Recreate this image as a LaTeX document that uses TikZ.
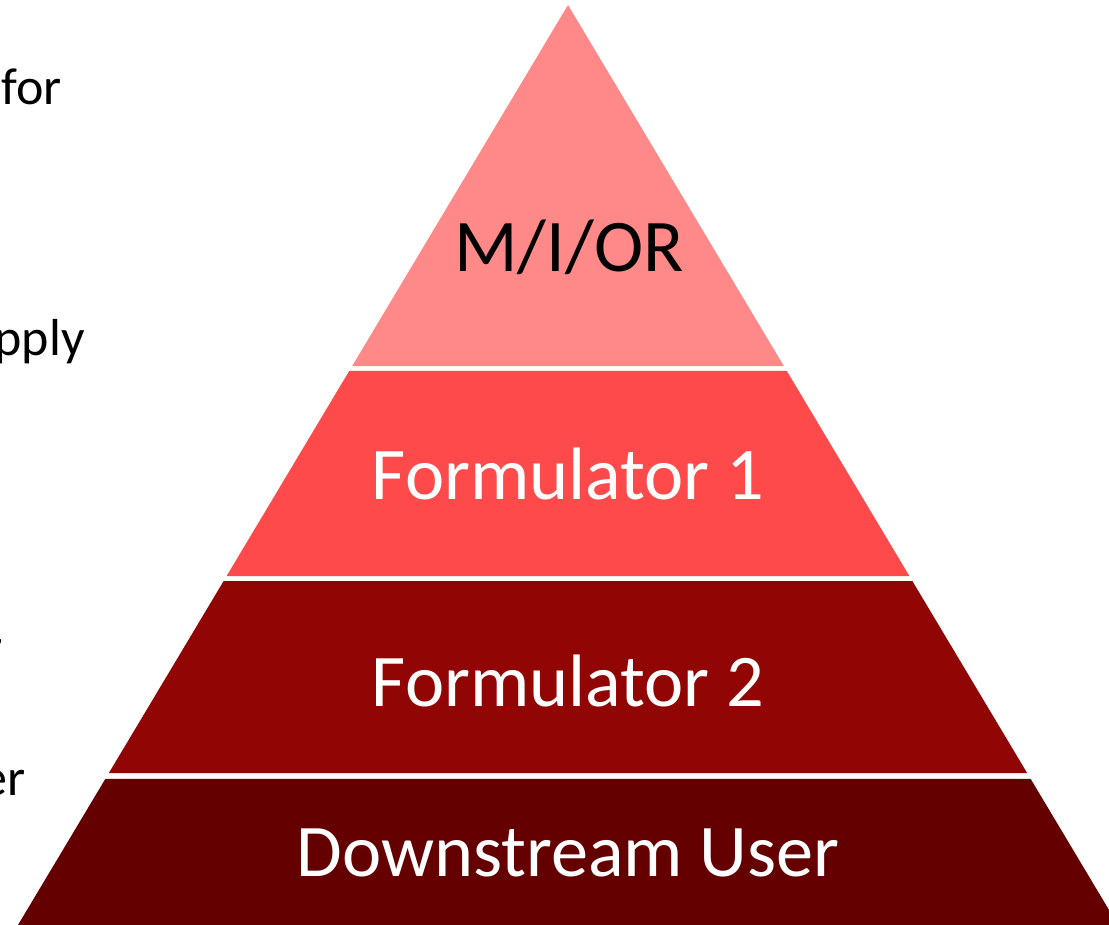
\documentclass[tikz,border=0pt]{standalone}
\usepackage{fontspec}
\setmainfont{Carlito}
\usetikzlibrary{calc}
\definecolor{layerA}{RGB}{255,137,137}
\definecolor{layerB}{RGB}{254,74,74}
\definecolor{layerC}{RGB}{146,5,5}
\definecolor{layerD}{RGB}{100,0,0}
\tikzset{
  lbl/.style={anchor=base, inner sep=0pt, font=\fontsize{74.3}{88}\selectfont},
  side/.style={anchor=base east, inner sep=0pt, font=\fontsize{52}{62}\selectfont, text=black},
}
\begin{document}
\begin{tikzpicture}[x=1pt,y=-1pt]
\useasboundingbox (0,0) rectangle (1109,925);
\coordinate (apex) at (568,5);
\coordinate (bl) at (18,925);
\coordinate (br) at (1118,925);
% layer 1
\fill[layerA] (apex) -- ($(apex)!0.3924!(bl)$) -- ($(apex)!0.3924!(br)$) -- cycle;
% layer 2
\fill[layerB] ($(apex)!0.3978!(bl)$) -- ($(apex)!0.6207!(bl)$) -- ($(apex)!0.6207!(br)$) -- ($(apex)!0.3978!(br)$) -- cycle;
% layer 3
\fill[layerC] ($(apex)!0.6261!(bl)$) -- ($(apex)!0.8348!(bl)$) -- ($(apex)!0.8348!(br)$) -- ($(apex)!0.6261!(br)$) -- cycle;
% layer 4
\fill[layerD] ($(apex)!0.8413!(bl)$) -- (bl) -- (br) -- ($(apex)!0.8413!(br)$) -- cycle;
\node[lbl, text=black] (t1) at (569,272) {M/I/OR};
\node[lbl, text=white] (t2) at (568,499) {Formulator 1};
\node[lbl, text=white] (t3) at (568,706) {Formulator 2};
\node[lbl, text=white] (t4) at (568,876) {Downstream User};
\node[side] (s1) at (62,105) {for};
\node[side] (s2) at (85,356) {pply};
\node[side] (s3) at (3,664) {r};
\node[side] (s4) at (26,795) {er};
\end{tikzpicture}
\end{document}
